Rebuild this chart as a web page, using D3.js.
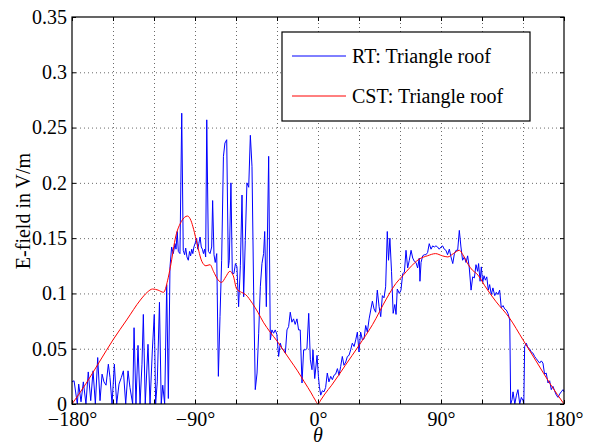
<!DOCTYPE html>
<html>
<head>
<meta charset="utf-8">
<script src="https://cdnjs.cloudflare.com/ajax/libs/d3/7.8.5/d3.min.js"></script>
<style>
  body { margin: 0; background: #fff; }
  svg text { font-family: "Liberation Serif", "Times New Roman", serif; }
</style>
</head>
<body>
<div id="chart"></div>
<script>
// RT (ray tracing) samples: angle in degrees, field in V/m
var rtTheta = [
  -180, -178.5, -176.1, -175.1, -173.4, -171.7, -169.8, -168.1, -166.3, -164.6,
  -162.9, -161.2, -159.5, -158.0, -156.6, -155.1, -153.4, -152.2, -150.7, -149.0,
  -147.3, -145.6, -143.9, -142.4, -140.7, -139.0, -137.6, -135.6, -134.6, -133.2,
  -131.7, -130.2, -128.8, -127.8, -126.4, -124.4, -122.9, -121.2, -119.8, -118.8,
  -117.6, -116.0, -114.7, -113.6, -112.2, -110.7, -109.5, -108.3, -107.1, -105.9,
  -104.6, -103.9, -103.0, -102.2, -101.0, -99.7, -98.6, -97.6, -96.8, -95.9,
  -94.9, -94.0, -93.2, -92.4, -91.6, -90.8, -90.0, -88.8, -88.0, -87.2,
  -86.3, -85.4, -84.6, -83.8, -83.0, -82.2, -81.4, -80.2, -79.0, -77.8,
  -77.1, -76.1, -75.2, -74.1, -72.9, -71.7, -70.5, -69.2, -68.1, -66.8,
  -65.6, -64.9, -63.7, -62.7, -61.5, -60.4, -59.3, -58.1, -56.8, -55.6,
  -54.4, -53.2, -52.0, -50.7, -49.5, -48.3, -47.1, -45.9, -44.6, -43.4,
  -42.2, -41.0, -39.8, -39.0, -37.8, -36.1, -34.9, -33.7, -32.5, -31.3,
  -30.1, -28.8, -27.6, -26.4, -25.2, -23.9, -22.7, -21.5, -20.3, -19.1,
  -17.9, -16.7, -15.4, -14.2, -13.0, -11.7, -10.5, -9.3, -8.1, -6.8,
  -5.6, -4.4, -3.7, -2.4, -0.7, 0.3, 1.0, 2.0, 3.2, 4.4,
  5.6, 6.8, 8.0, 9.3, 10.5, 11.7, 12.9, 14.2, 15.4, 16.6,
  17.8, 19.0, 20.3, 21.5, 22.7, 23.9, 25.1, 26.4, 27.6, 28.8,
  30.0, 31.2, 32.5, 33.7, 34.9, 36.1, 37.4, 38.6, 39.8, 41.0,
  42.2, 43.4, 44.7, 45.9, 47.1, 48.3, 49.5, 50.7, 51.6, 52.6,
  53.8, 55.0, 56.2, 57.1, 58.0, 59.5, 60.7, 62.0, 63.2, 64.4,
  65.6, 66.8, 68.1, 69.3, 70.5, 71.7, 72.9, 74.1, 74.6, 75.4,
  76.6, 77.8, 79.0, 80.2, 81.4, 82.7, 83.9, 85.1, 86.3, 87.5,
  88.7, 90.0, 91.2, 92.4, 93.6, 94.8, 96.1, 97.3, 98.6, 99.8,
  101.0, 102.2, 103.4, 104.6, 105.8, 107.1, 108.3, 109.5, 110.7, 112.0,
  113.2, 114.4, 115.6, 116.8, 117.5, 118.6, 119.5, 120.5, 121.5, 122.5,
  123.5, 124.6, 125.6, 126.8, 128.0, 129.3, 130.5, 131.7, 132.9, 134.1,
  135.4, 136.6, 137.8, 139.0, 140.3, 141.0, 142.0, 142.7, 144.0, 145.2,
  146.3, 147.6, 148.8, 150.0, 150.6, 151.2, 152.4, 153.6, 154.8, 156.0,
  157.3, 158.5, 159.7, 160.9, 162.2, 163.4, 164.6, 165.8, 167.0, 168.3,
  169.5, 170.7, 171.9, 173.1, 174.4, 175.6, 176.8, 178.0, 179.3, 180.0
];
var rtField = [
  0.020, 0.021, 0.000, 0.018, 0.002, 0.020, 0.000, 0.029, 0.003, 0.030,
  0.000, 0.042, 0.003, 0.027, 0.020, 0.017, 0.036, 0.024, 0.000, 0.036,
  0.000, 0.018, 0.024, 0.030, 0.000, 0.030, 0.015, 0.000, 0.069, 0.000,
  0.053, 0.000, 0.036, 0.081, 0.000, 0.054, 0.000, 0.049, 0.081, 0.000,
  0.020, 0.092, 0.000, 0.017, 0.000, 0.108, 0.005, 0.124, 0.142, 0.136,
  0.145, 0.140, 0.156, 0.138, 0.136, 0.263, 0.139, 0.135, 0.141, 0.133,
  0.130, 0.138, 0.134, 0.140, 0.136, 0.142, 0.145, 0.150, 0.140, 0.145,
  0.151, 0.142, 0.140, 0.136, 0.140, 0.133, 0.257, 0.138, 0.136, 0.142,
  0.184, 0.135, 0.128, 0.136, 0.025, 0.079, 0.130, 0.224, 0.236, 0.239,
  0.123, 0.130, 0.200, 0.118, 0.118, 0.127, 0.124, 0.088, 0.125, 0.189,
  0.097, 0.148, 0.200, 0.196, 0.243, 0.215, 0.103, 0.013, 0.028, 0.064,
  0.106, 0.127, 0.136, 0.156, 0.088, 0.224, 0.058, 0.067, 0.064, 0.067,
  0.063, 0.043, 0.055, 0.050, 0.049, 0.046, 0.067, 0.070, 0.083, 0.074,
  0.077, 0.072, 0.077, 0.067, 0.067, 0.019, 0.049, 0.049, 0.050, 0.082,
  0.040, 0.031, 0.049, 0.023, 0.044, 0.025, 0.016, 0.008, 0.012, 0.011,
  0.015, 0.028, 0.020, 0.025, 0.022, 0.026, 0.027, 0.032, 0.026, 0.034,
  0.043, 0.035, 0.038, 0.043, 0.044, 0.049, 0.055, 0.052, 0.058, 0.065,
  0.047, 0.065, 0.058, 0.059, 0.071, 0.065, 0.077, 0.085, 0.093, 0.086,
  0.083, 0.103, 0.088, 0.079, 0.098, 0.096, 0.106, 0.156, 0.130, 0.150,
  0.120, 0.082, 0.090, 0.081, 0.104, 0.100, 0.103, 0.118, 0.119, 0.139,
  0.123, 0.130, 0.139, 0.132, 0.129, 0.128, 0.123, 0.132, 0.111, 0.128,
  0.134, 0.135, 0.135, 0.137, 0.145, 0.140, 0.143, 0.142, 0.143, 0.142,
  0.140, 0.142, 0.143, 0.140, 0.139, 0.135, 0.140, 0.133, 0.127, 0.136,
  0.139, 0.139, 0.157, 0.142, 0.130, 0.133, 0.128, 0.134, 0.123, 0.103,
  0.115, 0.114, 0.126, 0.120, 0.127, 0.111, 0.124, 0.110, 0.116, 0.112,
  0.115, 0.103, 0.108, 0.099, 0.105, 0.098, 0.101, 0.099, 0.103, 0.087,
  0.089, 0.086, 0.085, 0.082, 0.076, 0.000, 0.004, 0.011, 0.000, 0.008,
  0.013, 0.000, 0.006, 0.003, 0.000, 0.052, 0.055, 0.051, 0.050, 0.047,
  0.046, 0.043, 0.041, 0.039, 0.037, 0.039, 0.037, 0.027, 0.028, 0.019,
  0.021, 0.013, 0.016, 0.012, 0.008, 0.006, 0.009, 0.011, 0.013, 0.011
];

// CST (full wave) curve
var cstTheta = [
  -180, -170, -160, -150, -140, -130, -125, -121, -117, -113,
  -110, -108, -104, -100, -95.5, -93, -91, -88.5, -85, -82,
  -79, -76.5, -73, -70.5, -67.5, -64.5, -62, -59.5, -56, -53,
  -48, -44, -40, -35, -30, -25, -20, -15, -10, -5,
  -2, 0, 2, 5, 10, 20, 30, 40, 50, 57,
  62, 67, 74, 80, 86, 91, 95, 99, 103.5, 106,
  110, 113, 116, 118, 122, 130, 140, 150, 160, 170, 180
];
var cstField = [
  0.000, 0.018, 0.038, 0.058, 0.076, 0.094, 0.101, 0.104, 0.103, 0.101,
  0.112, 0.124, 0.152, 0.165, 0.170, 0.166, 0.158, 0.145, 0.129, 0.125,
  0.126, 0.120, 0.112, 0.110, 0.115, 0.120, 0.116, 0.104, 0.101, 0.099,
  0.091, 0.083, 0.074, 0.065, 0.057, 0.048, 0.039, 0.030, 0.020, 0.010,
  0.0035, 0.000, 0.0035, 0.009, 0.017, 0.035, 0.053, 0.072, 0.095, 0.109,
  0.116, 0.123, 0.131, 0.134, 0.136, 0.134, 0.133, 0.136, 0.139, 0.135,
  0.126, 0.121, 0.118, 0.115, 0.107, 0.093, 0.078, 0.058, 0.038, 0.018, 0.000
];

var xGridValues = [-150, -120, -90, -60, -30, 0, 30, 60, 90, 120, 150];
var xTickValues = [-180, -150, -120, -90, -60, -30, 0, 30, 60, 90, 120, 150, 180];
var xLabelValues = [-180, -90, 0, 90, 180];
var yTickValues = [0, 0.05, 0.1, 0.15, 0.2, 0.25, 0.3, 0.35];
var legendLabels = ["RT: Triangle roof", "CST: Triangle roof"];
var seriesColors = ["#0000ff", "#ff0000"];

var serif = "'Liberation Serif', 'Times New Roman', serif";

var W = 593, H = 445;
var margin = {top: 17, right: 29, bottom: 41, left: 72};
var width = W - margin.left - margin.right,
    height = H - margin.top - margin.bottom;

var svg = d3.select("#chart")
  .append("svg")
    .attr("width", W)
    .attr("height", H)
  .append("g")
    .attr("transform", "translate(" + margin.left + "," + margin.top + ")");

var x = d3.scaleLinear().domain([-180, 180]).range([0, width]);
var y = d3.scaleLinear().domain([0, 0.35]).range([height, 0]);

// dotted grid
svg.append("g")
  .attr("class", "grid")
  .attr("transform", "translate(0," + height + ")")
  .call(d3.axisBottom(x).tickValues(xGridValues).tickSize(-height).tickFormat(""));
svg.append("g")
  .attr("class", "grid")
  .call(d3.axisLeft(y).tickValues(yTickValues.slice(1, -1)).tickSize(-width).tickFormat(""));
svg.selectAll(".grid .domain").remove();
svg.selectAll(".grid line")
  .attr("stroke", "#444")
  .attr("stroke-width", 0.8)
  .attr("stroke-dasharray", "1,3");

// curves
var rtData = rtTheta.map(function(t, i) { return {t: t, v: rtField[i]}; });
var cstData = cstTheta.map(function(t, i) { return {t: t, v: cstField[i]}; });

var rtLine = d3.line()
  .x(function(d) { return x(d.t); })
  .y(function(d) { return y(d.v); });
var cstLine = d3.line()
  .curve(d3.curveMonotoneX)
  .x(function(d) { return x(d.t); })
  .y(function(d) { return y(d.v); });

svg.append("path")
  .datum(rtData)
  .attr("fill", "none")
  .attr("stroke", seriesColors[0])
  .attr("stroke-width", 1)
  .attr("stroke-linejoin", "round")
  .attr("d", rtLine);

svg.append("path")
  .datum(cstData)
  .attr("fill", "none")
  .attr("stroke", seriesColors[1])
  .attr("stroke-width", 1)
  .attr("d", cstLine);

// axes, ticks pointing inwards on all four sides
function degLabel(d) {
  if (xLabelValues.indexOf(d) < 0) return "";
  return (d < 0 ? "\u2212" + (-d) : d) + "\u00b0";
}

svg.append("g")
  .attr("class", "axis")
  .attr("transform", "translate(0," + height + ")")
  .call(d3.axisBottom(x).tickValues(xTickValues).tickSize(-4).tickSizeOuter(0).tickPadding(8).tickFormat(degLabel));
svg.append("g")
  .attr("class", "axis")
  .call(d3.axisTop(x).tickValues(xTickValues).tickSize(-4).tickSizeOuter(0).tickFormat(""));
svg.append("g")
  .attr("class", "axis")
  .call(d3.axisLeft(y).tickValues(yTickValues).tickSize(-4).tickSizeOuter(0).tickPadding(5)
    .tickFormat(function(d) { return String(+d.toFixed(2)); }));
svg.append("g")
  .attr("class", "axis")
  .attr("transform", "translate(" + width + ",0)")
  .call(d3.axisRight(y).tickValues(yTickValues).tickSize(-4).tickSizeOuter(0).tickFormat(""));

svg.selectAll(".domain").remove();
svg.selectAll(".axis").attr("font-family", serif).attr("font-size", 20);
svg.selectAll(".tick text")
  .attr("font-family", serif)
  .attr("font-size", 20)
  .attr("fill", "#000");

svg.append("rect")
  .attr("width", width)
  .attr("height", height)
  .attr("fill", "none")
  .attr("stroke", "#000")
  .attr("stroke-width", 1.2);

// axis titles
svg.append("text")
  .attr("x", x(0))
  .attr("y", height + 38)
  .attr("text-anchor", "middle")
  .attr("font-family", serif)
  .attr("font-size", 20)
  .attr("font-style", "italic")
  .text("\u03b8");

svg.append("text")
  .attr("transform", "translate(" + (30 - margin.left) + "," + (211 - margin.top) + ") rotate(-90)")
  .attr("text-anchor", "middle")
  .attr("font-family", serif)
  .attr("font-size", 20)
  .text("E-field in V/m");

// legend
var legend = svg.append("g")
  .attr("transform", "translate(" + (282 - margin.left) + "," + (32 - margin.top) + ")");

legend.append("rect")
  .attr("width", 248)
  .attr("height", 89)
  .attr("fill", "#fff")
  .attr("stroke", "#000")
  .attr("stroke-width", 1.2);

legendLabels.forEach(function(lbl, i) {
  var ly = 24 + i * 40;
  legend.append("line")
    .attr("x1", 10).attr("x2", 64)
    .attr("y1", ly).attr("y2", ly)
    .attr("stroke", seriesColors[i])
    .attr("stroke-width", 1);
  legend.append("text")
    .attr("x", 70)
    .attr("y", ly + 6.5)
    .attr("font-family", serif)
    .attr("font-size", 20)
    .text(lbl);
});
</script>
</body>
</html>
